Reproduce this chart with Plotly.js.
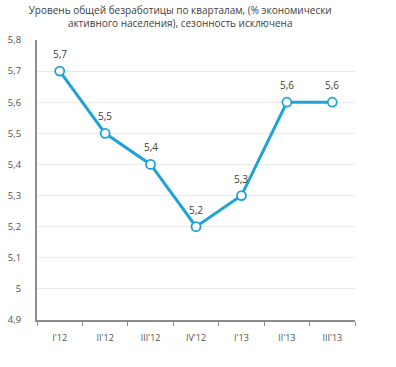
<!DOCTYPE html>
<html><head><meta charset="utf-8">
<script src="https://cdn.plot.ly/plotly-3.0.1.min.js"></script>
<style>html,body{margin:0;padding:0;background:#fff}#c{width:396px;height:367px}</style>
</head><body><div id="c"></div>
<script>
const categories = ["I'12", "II'12", "III'12", "IV'12", "I'13", "II'13", "III'13"];
const values = [5.7, 5.5, 5.4, 5.2, 5.3, 5.6, 5.6];
const titleText = "Уровень общей безработицы по кварталам, (% экономически<br>активного населения), сезонность исключена";

const labels = values.map(v => v.toFixed(1).replace('.', ','));
const font = "Open Sans, Liberation Sans, sans-serif";

const annotations = categories.map((c, i) => ({
  x: c, y: values[i], xref: 'x', yref: 'y', text: labels[i], showarrow: false,
  yshift: 17, font: {family: font, size: 10, color: '#404040'}
}));

Plotly.newPlot('c', [{
  x: categories, y: values, type: 'scatter', mode: 'lines+markers',
  line: {color: '#1fa3d6', width: 3},
  marker: {symbol: 'circle', size: 9, color: '#ffffff', line: {color: '#1fa3d6', width: 1.8}},
  cliponaxis: false, hoverinfo: 'none'
}], {
  width: 396, height: 367,
  margin: {l: 37, r: 41, t: 40, b: 47},
  paper_bgcolor: '#fff', plot_bgcolor: '#fff',
  separators: ', ',
  showlegend: false,
  annotations: annotations,
  title: {text: titleText, x: 0.455, xanchor: 'center', yref: 'container', y: 0.962, yanchor: 'middle',
          font: {family: font, size: 10, color: '#404040'}},
  xaxis: {type: 'category', range: [-0.5, 6.5], showgrid: false, showline: true,
          linecolor: '#8c8c8c', linewidth: 1.5, ticks: 'outside', tickson: 'boundaries',
          ticklen: 4, tickcolor: '#8c8c8c', ticklabelstandoff: 9,
          tickfont: {family: font, size: 9, color: '#505050'},
          zeroline: false, fixedrange: true},
  yaxis: {range: [4.9, 5.8], dtick: 0.1, tick0: 4.9, showgrid: true, gridcolor: '#ebebeb',
          showline: true, linecolor: '#8c8c8c', linewidth: 2, ticks: '', ticklabelstandoff: 12,
          tickfont: {family: font, size: 9.5, color: '#505050'}, zeroline: false, fixedrange: true}
}, {staticPlot: true});
</script></body></html>
